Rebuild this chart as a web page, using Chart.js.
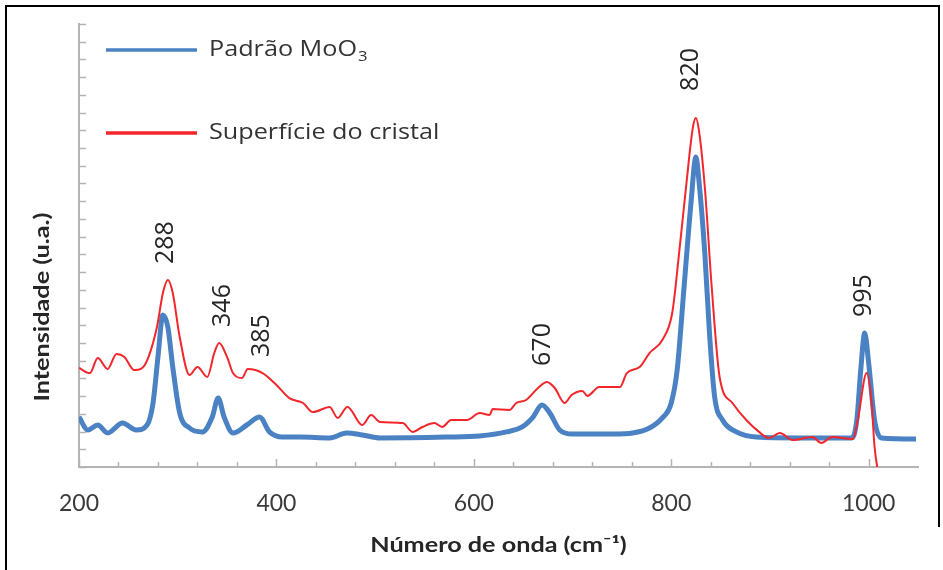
<!DOCTYPE html>
<html><head><meta charset="utf-8">
<script src="https://cdn.jsdelivr.net/npm/chart.js@4.4.1/dist/chart.umd.min.js"></script>
<style>
html,body{margin:0;padding:0;background:#fff;}
#wrap{position:relative;width:943px;height:570px;overflow:hidden;background:#fff;}
#c{position:absolute;left:0;top:0;}
.frame{position:absolute;background:#000;}
</style></head><body>
<div id="wrap"><canvas id="c" width="943" height="570"></canvas>
<div class="frame" style="left:5px;top:5px;width:935px;height:2px"></div>
<div class="frame" style="left:5px;top:5px;width:2px;height:565px"></div>
<div class="frame" style="left:938px;top:5px;width:2px;height:522px"></div>
</div>
<script>
const seriesNames = ['Padrão MoO', 'Superfície do cristal'];
const seriesSub = ['3', ''];
const xTitle = 'Número de onda (cm⁻¹)';
const yTitle = 'Intensidade (u.a.)';
const xLabelValues = [200, 400, 600, 800, 1000];
const peakLabels = ['288', '346', '385', '670', '820', '995'];

const blueX = [200,209,219,229,244,258,269,275,280,285,290,295,302,312,325,335,341,347,356,370,383,393,406,424,454,471,487,505,572,606,633,649,660,669,677,687,700,741,761,778,791,800,806,813,820,825,828,834,839,844,852,866,886,930,983,988,992,996,1000,1006,1013,1048];
const blueY = [2.82,2.09,2.37,1.92,2.48,2.09,2.37,3.61,6.21,8.58,7.90,5.64,3.05,2.20,1.98,2.82,3.89,2.82,1.92,2.37,2.82,1.98,1.69,1.69,1.64,1.92,1.81,1.64,1.69,1.75,1.98,2.26,2.82,3.50,3.05,2.09,1.86,1.86,1.92,2.20,2.77,3.61,5.47,10.16,14.90,17.49,16.20,12.08,7.34,3.95,2.65,1.98,1.69,1.64,1.64,2.65,5.47,7.56,5.87,2.65,1.64,1.58];

const redX = [200,211,219,229,238,246,256,264,270,279,285,290,295,302,312,320,330,337,342,350,356,365,371,386,400,413,427,437,454,462,472,487,496,505,528,538,548,560,568,577,593,606,616,619,636,643,653,665,674,682,692,699,710,715,727,748,755,768,778,791,801,808,815,822,825,828,834,841,849,862,876,889,899,910,923,943,952,963,984,989,998,1003,1006,1011];
const redY = [5.59,5.30,6.15,5.53,6.38,6.21,5.47,5.59,6.15,7.90,9.82,10.55,9.82,7.34,5.19,5.64,5.08,6.43,7.00,6.21,5.30,5.02,5.53,5.30,4.63,3.89,3.61,3.10,3.39,2.77,3.39,2.37,2.93,2.54,2.48,1.98,2.26,2.48,2.26,2.65,2.65,3.05,2.93,3.27,3.22,3.61,3.78,4.46,4.80,4.46,3.61,4.06,4.29,4.01,4.51,4.51,5.30,5.64,6.43,7.17,8.69,12.08,15.80,19.19,19.70,19.02,15.80,10.16,5.08,3.61,2.65,1.98,1.64,1.92,1.52,1.69,1.35,1.69,1.58,2.65,5.30,3.61,1.13,-0.73];

const BLUE = '#4a82c4';
const RED = '#f2262b';
const AXIS = '#b4b4b4';
const TEXT = '#333333';
const DARK = '#262626';
const STRETCH = 1.2;

const toPts = (xs, ys) => xs.map((x, i) => ({x: x, y: ys[i]}));

function stretchedText(ctx, text, cx, cy, rot, align) {
  ctx.save();
  ctx.translate(cx, cy);
  ctx.rotate(rot);
  ctx.scale(STRETCH, 1);
  ctx.textAlign = align;
  ctx.textBaseline = 'middle';
  ctx.fillText(text, 0, 0);
  ctx.restore();
}

const decoPlugin = {
  id: 'deco',
  afterDatasetsDraw(chart) {
    const {ctx, chartArea: ca, scales: {x, y}} = chart;
    ctx.save();
    // inward tick marks
    ctx.strokeStyle = AXIS;
    ctx.lineWidth = 1.5;
    x.ticks.forEach(t => {
      if (t.value % 40 !== 0) return;
      const px = Math.round(x.getPixelForValue(t.value)) + 0.5;
      const len = (t.value % 200 === 0) ? 8 : 5;
      ctx.beginPath(); ctx.moveTo(px, ca.bottom); ctx.lineTo(px, ca.bottom - len); ctx.stroke();
    });
    y.ticks.forEach(t => {
      const py = Math.round(y.getPixelForValue(t.value)) + 0.5;
      ctx.beginPath(); ctx.moveTo(ca.left, py); ctx.lineTo(ca.left + 7, py); ctx.stroke();
    });
    // peak labels
    ctx.fillStyle = DARK;
    ctx.font = '25px "Open Sans"';
    const all = [toPts(blueX, blueY), toPts(redX, redY)];
    peakLabels.forEach(lbl => {
      const v = parseFloat(lbl);
      let top = -Infinity;
      all.forEach(s => s.forEach(p => { if (Math.abs(p.x - v) <= 8 && p.y > top) top = p.y; }));
      const px = x.getPixelForValue(v);
      const py = y.getPixelForValue(top) - (top > 15 ? 27 : 16);
      ctx.save();
      ctx.translate(px, py);
      ctx.rotate(-Math.PI / 2);
      ctx.textAlign = 'left';
      ctx.textBaseline = 'middle';
      ctx.fillText(lbl, 0, 0);
      ctx.restore();
    });
    // legend
    const colors = [BLUE, RED];
    seriesNames.forEach((name, i) => {
      const ly = ca.top + 26 + i * 83;
      ctx.strokeStyle = colors[i];
      ctx.lineWidth = 3.5;
      ctx.beginPath(); ctx.moveTo(ca.left + 27, ly); ctx.lineTo(ca.left + 118, ly); ctx.stroke();
      ctx.fillStyle = TEXT;
      ctx.font = '21px "Open Sans"';
      const tx = ca.left + 130;
      stretchedText(ctx, name, tx, ly, 0, 'left');
      if (seriesSub[i]) {
        const w = ctx.measureText(name).width * STRETCH;
        ctx.font = '14px "Open Sans"';
        stretchedText(ctx, seriesSub[i], tx + w + 1, ly + 7, 0, 'left');
      }
    });
    // axis titles
    ctx.fillStyle = DARK;
    ctx.font = 'bold 21px Lato';
    stretchedText(ctx, yTitle, 42, 307, -Math.PI / 2, 'center');
    stretchedText(ctx, xTitle, (ca.left + ca.right) / 2, 545, 0, 'center');
    ctx.restore();
  }
};

new Chart(document.getElementById('c'), {
  type: 'line',
  data: {
    datasets: [
      {label: seriesNames[0] + seriesSub[0], data: toPts(blueX, blueY), borderColor: BLUE, borderWidth: 5, pointRadius: 0, cubicInterpolationMode: 'monotone', order: 1},
      {label: seriesNames[1], data: toPts(redX, redY), borderColor: RED, borderWidth: 2, pointRadius: 0, cubicInterpolationMode: 'monotone', order: 0}
    ]
  },
  options: {
    responsive: false,
    animation: false,
    events: [],
    layout: {padding: {top: 24, right: 25, left: 0, bottom: 0}},
    plugins: {legend: {display: false}, tooltip: {enabled: false}},
    scales: {
      x: {
        type: 'linear', min: 200, max: 1050,
        afterFit: s => { s.height = 103; },
        grid: {drawOnChartArea: false, drawTicks: false},
        border: {display: true, color: AXIS, width: 2},
        ticks: {
          stepSize: 40, autoSkip: false, maxRotation: 0, padding: 23,
          color: '#3a3a3a', font: {family: 'Lato', size: 23},
          callback: v => xLabelValues.includes(v) ? String(v) : ''
        }
      },
      y: {
        type: 'linear', min: 0, max: 25,
        afterFit: s => { s.width = 79; },
        grid: {drawOnChartArea: false, drawTicks: false},
        border: {display: true, color: AXIS, width: 2},
        ticks: {stepSize: 1, display: false}
      }
    }
  },
  plugins: [decoPlugin]
});
</script>
</body></html>
